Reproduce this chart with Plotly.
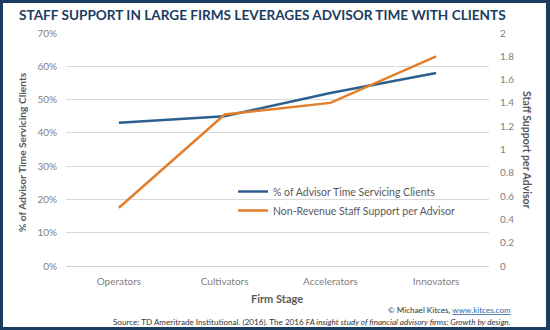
import plotly.graph_objects as go

categories = ["Operators", "Cultivators", "Accelerators", "Innovators"]
pct_time_clients = [43, 45, 52, 58]
staff_support = [0.5, 1.3, 1.4, 1.8]
series_names = ["% of Advisor Time Servicing Clients", "Non-Revenue Staff Support per Advisor"]

NAVY = "#1b3d61"
BLUE = "#2c5f90"
ORANGE = "#e27f2c"
GRAY = "#7f7f7f"
DARK = "#595959"

L, R, T, B = 66, 61, 33, 64
W, H = 550, 330
PW, PH = W - L - R, H - T - B

def px(x):
    return (x - L) / PW

def py(y):
    return (H - B - y) / PH

fig = go.Figure()
fig.add_trace(go.Scatter(x=categories, y=pct_time_clients, name=series_names[0],
                         mode="lines", line=dict(color=BLUE, width=2.5), yaxis="y"))
fig.add_trace(go.Scatter(x=categories, y=staff_support, name=series_names[1],
                         mode="lines", line=dict(color=ORANGE, width=2.5), yaxis="y2"))

tickfont = dict(family="Lato", size=10, color=GRAY)
fig.update_layout(
    width=W, height=H,
    margin=dict(l=L, r=R, t=T, b=B, pad=0),
    paper_bgcolor="white", plot_bgcolor="white",
    showlegend=True,
    legend=dict(x=px(233), y=py(177), xanchor="left", yanchor="top",
                bgcolor="rgba(0,0,0,0)", font=dict(family="Lato", size=10.5, color=DARK),
                itemwidth=30, tracegroupgap=0),
    xaxis=dict(type="category", range=[-0.5, 3.5], showgrid=False,
               showline=True, linecolor="#d0d0d0", linewidth=1,
               tickfont=tickfont, ticks="", ticklabelstandoff=6),
    yaxis=dict(range=[0, 70], dtick=10, ticksuffix="%", showgrid=True,
               gridcolor="#d9d9d9", gridwidth=1, zeroline=False,
               tickfont=tickfont, ticks="", ticklabelstandoff=8),
    yaxis2=dict(range=[0, 2], dtick=0.2, overlaying="y", side="right",
                showgrid=False, zeroline=False, tickfont=tickfont, ticks="",
                ticklabelstandoff=10),
    font=dict(family="Lato", color=DARK),
)

# border frame
for (x0, x1, y0, y1) in [(0, 3, 0, 330), (546, 550, 0, 330), (0, 550, 0, 3), (0, 550, 327, 330)]:
    fig.add_shape(type="rect", xref="paper", yref="paper",
                  x0=px(x0), x1=px(x1), y0=py(y1), y1=py(y0),
                  fillcolor=NAVY, line=dict(width=0), layer="above")

ann = []
ann.append(dict(text="<b>STAFF SUPPORT IN LARGE FIRMS LEVERAGES ADVISOR TIME WITH CLIENTS</b>",
                x=px(262), y=py(15), xanchor="center", yanchor="middle",
                font=dict(family="Lato", size=13.6, color=NAVY)))
ann.append(dict(text="<b>% of Advisor Time Servicing Clients</b>", textangle=-90,
                x=px(22), y=py(152), xanchor="center", yanchor="middle",
                font=dict(family="Lato", size=10.2, color=DARK)))
ann.append(dict(text="<b>Staff Support per Advisor</b>", textangle=90,
                x=px(527), y=py(150), xanchor="center", yanchor="middle",
                font=dict(family="Lato", size=10.5, color=DARK)))
ann.append(dict(text="<b>Firm Stage</b>",
                x=px(277), y=py(298), xanchor="center", yanchor="middle",
                font=dict(family="Lato", size=11, color=DARK)))
ann.append(dict(text="© Michael Kitces, <span style='color:#2c6aa6'><u>www.kitces.com</u></span>",
                x=px(513), y=py(310), xanchor="right", yanchor="middle",
                font=dict(family="Lato", size=8.1, color="#333333")))
ann.append(dict(text="Source: TD Ameritrade Institutional. (2016). The 2016 <i>FA insight study of financial advisory firms: Growth by design.</i>",
                x=px(513), y=py(322), xanchor="right", yanchor="middle",
                font=dict(family="Lato", size=8.1, color="#333333")))
for a in ann:
    a.update(xref="paper", yref="paper", showarrow=False)
fig.update_layout(annotations=ann)

fig.write_html("out.html")
